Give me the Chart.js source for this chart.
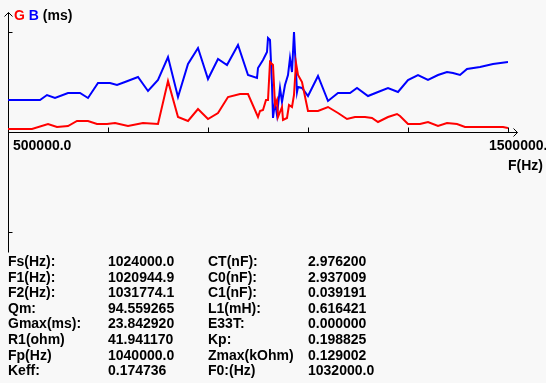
<!DOCTYPE html>
<html lang="en">
<head>
  <meta charset="UTF-8" />
  <title>G B (ms)</title>
  <script src="https://cdn.jsdelivr.net/npm/chart.js"></script>
  <style>
    body {
      margin: 0;
      background-color: #f8f8f8;
      font-family: 'Liberation Sans', Arial, sans-serif;
      font-weight: bold;
      font-size: 14px;
      line-height: 16px;
      color: #000;
      overflow: hidden;
    }
    .wrap {
      position: relative;
      width: 546px;
      height: 383px;
    }
    canvas {
      position: absolute;
      left: 0;
      top: 0;
    }
    .txt {
      position: absolute;
      white-space: nowrap;
    }
  </style>
</head>
<body>
  <div class="wrap" id="wrap">
    <canvas id="miCanvas" width="546" height="383"></canvas>
    <div class="txt" style="left: 14px; top: 7px;"><span style="color: #ff0000;">G</span> <span style="color: #0000ff;">B</span> (ms)</div>
    <div class="txt" style="left: 13px; top: 137px;">500000.0</div>
    <div class="txt" style="left: 489px; top: 137px;">1500000.0</div>
    <div class="txt" style="left: 508px; top: 157px;">F(Hz)</div>
  </div>

  <script>
    // frequency (Hz) and value pairs, top tick = 100
    const blueFreq = [500000, 564000, 578000, 594000, 620000, 644000, 660000, 680000, 704000, 718000,
      734000, 760000, 780000, 800000, 820000, 840000, 860000, 880000, 900000, 920000,
      938000, 960000, 980000, 998000, 1000000, 1010000, 1018000, 1020000, 1024000, 1028000,
      1030000, 1034000, 1038000, 1044000, 1048000, 1054000, 1060000, 1064000, 1068000, 1072000,
      1078000, 1080000, 1088000, 1100000, 1120000, 1140000, 1160000, 1184000, 1198000, 1220000,
      1240000, 1260000, 1280000, 1300000, 1320000, 1340000, 1360000, 1378000, 1390000, 1404000,
      1418000, 1444000, 1470000, 1500000];
    const blueVal = [32, 32, 37, 34, 39, 39, 34, 49, 49, 47,
      50, 55, 41, 52, 75, 35, 68, 84, 53, 73,
      67, 87, 57, 54, 64, 72, 80, 94, 92, 47,
      14, 30, 17, 44, 30, 47, 57, 74, 60, 100,
      40, 45, 44, 36, 56, 31, 39, 39, 44, 36,
      40, 44, 40, 52, 57, 52, 57, 60, 59, 57,
      63, 65, 68, 70];

    const redFreq = [500000, 548000, 580000, 598000, 620000, 638000, 660000, 678000, 698000, 714000,
      740000, 770000, 800000, 820000, 840000, 860000, 880000, 900000, 920000, 940000,
      964000, 980000, 1000000, 1004000, 1010000, 1016000, 1020000, 1024000, 1030000, 1034000,
      1038000, 1040000, 1048000, 1050000, 1058000, 1062000, 1068000, 1072000, 1076000, 1080000,
      1088000, 1100000, 1120000, 1140000, 1160000, 1178000, 1194000, 1214000, 1228000, 1240000,
      1260000, 1278000, 1284000, 1300000, 1324000, 1340000, 1360000, 1378000, 1398000, 1414000,
      1490000, 1500000];
    const redVal = [3, 3, 8, 5, 6, 11, 11, 8, 8, 9,
      6, 9, 8, 51, 15, 11, 23, 13, 19, 35,
      38, 38, 15, 21, 22, 32, 32, 70, 67, 27,
      32, 15, 25, 12, 14, 27, 25, 37, 69, 57,
      50, 21, 21, 25, 19, 13, 15, 15, 14, 10,
      15, 18, 16, 8, 8, 10, 6, 9, 8, 5,
      5, 4];

    const xTicks = [700000, 900000, 1100000, 1300000, 1500000];
    const yTicks = [100, -100];

    const tableLabels1 = ["Fs(Hz):", "F1(Hz):", "F2(Hz):", "Qm:", "Gmax(ms):", "R1(ohm)", "Fp(Hz)", "Keff:"];
    const tableValues1 = ["1024000.0", "1020944.9", "1031774.1", "94.559265", "23.842920", "41.941170", "1040000.0", "0.174736"];
    const tableLabels2 = ["CT(nF):", "C0(nF):", "C1(nF):", "L1(mH):", "E33T:", "Kp:", "Zmax(kOhm)", "F0:(Hz)"];
    const tableValues2 = ["2.976200", "2.937009", "0.039191", "0.616421", "0.000000", "0.198825", "0.129002", "1032000.0"];

    // table under the chart
    const wrap = document.getElementById("wrap");
    const cols = [tableLabels1, tableValues1, tableLabels2, tableValues2];
    const colLeft = [8, 108, 208, 308];
    cols.forEach((col, c) => {
      col.forEach((t, r) => {
        const d = document.createElement("div");
        d.className = "txt";
        d.style.left = colLeft[c] + "px";
        d.style.top = (253 + r * 15.6) + "px";
        d.textContent = t;
        wrap.appendChild(d);
      });
    });

    const toPoints = (xs, ys) => xs.map((x, i) => ({ x: x, y: ys[i] }));

    // axis lines with arrows, drawn from the chart's own scales
    const axesPlugin = {
      id: "axes",
      beforeDatasetsDraw(chart) {
        const ctx = chart.ctx;
        const xs = chart.scales.x;
        const ys = chart.scales.y;
        const x0 = Math.round(xs.getPixelForValue(500000)) + 0.5;
        const y0 = Math.round(ys.getPixelForValue(0)) + 0.5;
        const yTop = Math.round(ys.getPixelForValue(120)) + 0.5;
        const yBot = Math.round(ys.getPixelForValue(-120)) + 0.5;
        const xEnd = Math.round(xs.getPixelForValue(1500000)) + 9.5;
        ctx.save();
        ctx.strokeStyle = "#000";
        ctx.lineWidth = 1;
        ctx.beginPath();
        // y axis
        ctx.moveTo(x0, yTop);
        ctx.lineTo(x0, yBot);
        ctx.moveTo(x0 - 4, yTop + 4);
        ctx.lineTo(x0, yTop);
        ctx.lineTo(x0 + 4, yTop + 4);
        yTicks.forEach((v) => {
          const p = Math.round(ys.getPixelForValue(v)) + 0.5;
          ctx.moveTo(x0, p);
          ctx.lineTo(x0 + 4, p);
        });
        // x axis
        ctx.moveTo(x0, y0);
        ctx.lineTo(xEnd, y0);
        ctx.moveTo(xEnd - 4, y0 - 4);
        ctx.lineTo(xEnd, y0);
        ctx.lineTo(xEnd - 4, y0 + 4);
        xTicks.forEach((v) => {
          const p = Math.round(xs.getPixelForValue(v)) + 0.5;
          ctx.moveTo(p, y0);
          ctx.lineTo(p, y0 - 5);
        });
        ctx.stroke();
        ctx.restore();
      }
    };

    new Chart(document.getElementById("miCanvas").getContext("2d"), {
      type: "line",
      data: {
        datasets: [
          {
            label: "G",
            data: toPoints(redFreq, redVal),
            borderColor: "#ff0000",
            borderWidth: 2
          },
          {
            label: "B",
            data: toPoints(blueFreq, blueVal),
            borderColor: "#0000ff",
            borderWidth: 2
          }
        ]
      },
      options: {
        responsive: false,
        animation: false,
        layout: { padding: { left: 8, top: 12, right: 38, bottom: 131 } },
        elements: {
          point: { radius: 0 },
          line: { tension: 0, borderJoinStyle: "miter" }
        },
        plugins: { legend: { display: false }, tooltip: { enabled: false } },
        scales: {
          x: { type: "linear", min: 500000, max: 1500000, display: false },
          y: { type: "linear", min: -120, max: 120, display: false }
        }
      },
      plugins: [axesPlugin]
    });
  </script>
</body>
</html>
